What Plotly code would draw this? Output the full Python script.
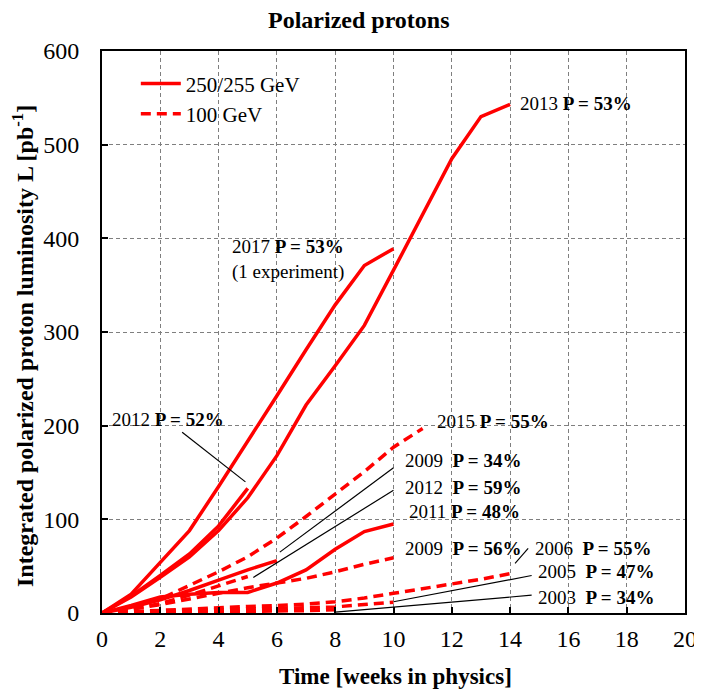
import plotly.graph_objects as go

# ---- data (weeks in physics, integrated luminosity pb^-1) ----
# 250/255 GeV runs (solid)
weeks_2013 = list(range(15))
lumi_2013 = [0, 17, 38, 60, 88, 123, 168, 222, 264, 307, 366, 425, 485, 530, 543]
weeks_2017 = list(range(11))
lumi_2017 = [0, 20, 54, 88, 135, 183, 232, 281, 329, 371, 389]
weeks_2012_255 = list(range(6))
lumi_2012_255 = [0, 18, 40, 63, 93, 133]
weeks_2011 = list(range(11))
lumi_2011 = [0, 8, 17, 20, 22, 22, 32, 46, 68, 87, 95]
weeks_2009_250 = list(range(7))
lumi_2009_250 = [0, 6, 14, 24, 35, 46, 56]

# 100 GeV runs (dashed)
weeks_2015 = list(range(12))
lumi_2015 = [0, 6, 15, 29, 44, 60, 80, 103, 127, 151, 177, 197]
weeks_2012_100 = list(range(6))
lumi_2012_100 = [0, 4, 10, 19, 29, 39]
weeks_2009_100 = list(range(11))
lumi_2009_100 = [0, 4, 9, 15, 21, 27, 32, 37, 44, 52, 59]
weeks_2006 = list(range(15))
lumi_2006 = [0, 1.5, 3, 4.5, 6, 7, 8, 9.5, 12, 16, 21, 26, 31, 36, 42]
weeks_2005 = list(range(11))
lumi_2005 = [0, 1, 2, 3, 4, 4.5, 5, 5.5, 6.5, 9, 11.5]
weeks_2003 = list(range(9))
lumi_2003 = [0, 0.3, 0.6, 1, 1.3, 1.7, 2, 2.5, 3.5]

x_ticks = list(range(0, 21, 2))
y_ticks = list(range(0, 601, 100))

solid_series = [
    (weeks_2013, lumi_2013),
    (weeks_2017, lumi_2017),
    (weeks_2012_255, lumi_2012_255),
    (weeks_2011, lumi_2011),
    (weeks_2009_250, lumi_2009_250),
]
dashed_series = [
    (weeks_2015, lumi_2015),
    (weeks_2012_100, lumi_2012_100),
    (weeks_2009_100, lumi_2009_100),
    (weeks_2006, lumi_2006),
    (weeks_2005, lumi_2005),
    (weeks_2003, lumi_2003),
]

SERIF = "Liberation Serif"
RED = "#ff0000"

fig = go.Figure()
for i, (wx, ly) in enumerate(solid_series):
    fig.add_trace(go.Scatter(
        x=wx, y=ly, mode="lines",
        line=dict(color=RED, width=3.5),
        name="250/255 GeV", legendgroup="hi", showlegend=(i == 0),
        hoverinfo="skip"))
for i, (wx, ly) in enumerate(dashed_series):
    fig.add_trace(go.Scatter(
        x=wx, y=ly, mode="lines",
        line=dict(color=RED, width=3.5, dash="10px,6px"),
        name="100 GeV", legendgroup="lo", showlegend=(i == 0),
        hoverinfo="skip"))

# ---- labels ----
labels = [
    (14.27, 544, "2013 <b>P = 53%</b>"),
    (4.4, 377, "2017 <b>P = 53%</b><br>(1 experiment)"),
    (0.29, 207, "2012 <b>P = 52%</b>"),
    (11.42, 204, "2015 <b>P = 55%</b>"),
    (10.34, 163, "2009  <b>P = 34%</b>"),
    (10.34, 134, "2012  <b>P = 59%</b>"),
    (10.45, 108, "2011 <b>P = 48%</b>"),
    (10.34, 69, "2009  <b>P = 56%</b>"),
    (14.8, 69, "2006  <b>P = 55%</b>"),
    (14.9, 44, "2005  <b>P = 47%</b>"),
    (14.9, 17, "2003  <b>P = 34%</b>"),
]
annotations = []
for lx, ly, txt in labels:
    annotations.append(dict(
        x=lx, y=ly, xref="x", yref="y", text=txt, showarrow=False,
        xanchor="left", yanchor="middle", align="left",
        font=dict(family=SERIF, size=19, color="black")))

# leader lines
leaders = [
    (2.75, 193, 4.92, 140),
    (10.0, 155, 6.1, 65),
    (10.0, 131, 5.19, 38),
    (14.62, 69, 14.17, 53),
    (14.74, 40, 10.0, 12),
    (14.74, 19, 8.0, 1),
]
shapes = []
for x0, y0, x1, y1 in leaders:
    shapes.append(dict(type="line", xref="x", yref="y", x0=x0, y0=y0, x1=x1, y1=y1,
                       line=dict(color="black", width=1.2)))

# titles
annotations.append(dict(
    x=0.44, y=1, xref="paper", yref="paper", yshift=31, text="<b>Polarized protons</b>",
    showarrow=False, xanchor="center", yanchor="middle",
    font=dict(family=SERIF, size=24, color="black")))
annotations.append(dict(
    x=0.503, y=0, xref="paper", yref="paper", yshift=-63, text="<b>Time [weeks in physics]</b>",
    showarrow=False, xanchor="center", yanchor="middle",
    font=dict(family=SERIF, size=23, color="black")))
annotations.append(dict(
    x=0, y=0.5, xref="paper", yref="paper", xshift=-79, yshift=-14,
    text="<b>Integrated polarized proton luminosity L [pb<sup>-1</sup>]</b>",
    textangle=-90, showarrow=False, xanchor="center", yanchor="middle",
    font=dict(family=SERIF, size=24, color="black")))

axis_common = dict(
    showline=True, linecolor="black", linewidth=2, mirror=True,
    showgrid=True, gridcolor="#7f7f7f", gridwidth=1, griddash="4px,3px",
    zeroline=False, ticks="inside", ticklen=6, tickwidth=2, tickcolor="black",
    tickfont=dict(family=SERIF, size=24, color="black"), automargin=False,
)

fig.update_layout(
    width=694, height=684,
    margin=dict(l=93.5, r=17, t=42.7, b=79.3, autoexpand=False),
    paper_bgcolor="white", plot_bgcolor="white",
    xaxis=dict(range=[0, 20], tickvals=x_ticks, ticklabeloverflow="allow",
               ticklabelstandoff=3, **axis_common),
    yaxis=dict(range=[0, 600], tickvals=y_ticks, ticklabelstandoff=16, **axis_common),
    legend=dict(x=0.058, y=0.978, xanchor="left", yanchor="top",
                bgcolor="rgba(0,0,0,0)", font=dict(family=SERIF, size=21, color="black"),
                itemwidth=40, tracegroupgap=0),
    annotations=annotations,
    shapes=shapes,
    showlegend=True,
)

fig.write_html("out.html")
